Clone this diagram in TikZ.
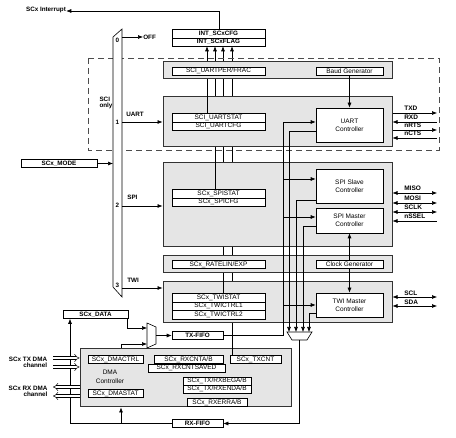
\documentclass[tikz,border=0pt]{standalone}
\usepackage{fontspec}
\setmainfont{Liberation Sans}
\usetikzlibrary{arrows.meta}
\tikzset{
	reg/.style={draw,fill=white,inner sep=0pt,minimum height=8pt,font=\fontsize{6.5}{6.5}\selectfont},
	blk/.style={draw=black!80,fill=black!10,line width=1pt,inner sep=0pt},
	ctrl/.style={draw,fill=white,inner sep=0pt,minimum width=67pt,align=center,font=\fontsize{6.5}{8}\selectfont},
	lbl/.style={inner sep=0pt,font=\bfseries\fontsize{6.3}{6.3}\selectfont},
	pin/.style={inner sep=0pt,anchor=west,font=\bfseries\fontsize{6.5}{6}\selectfont},
	dmaarrow/.style={double,double distance=2.2pt,line width=0.5pt,-{Implies}}
}

\begin{document}
\begin{tikzpicture}[x=1pt,y=-1pt,>={Latex[length=5pt,width=4pt]},line width=0.6pt]
\useasboundingbox (0,0) rectangle (456,438);
% interrupt registers
\node [reg,minimum width=93pt,minimum height=9pt,font=\bfseries\fontsize{6.3}{6}\selectfont] (intcfg) at (218.5,33.5) {INT\_SCxCFG};
\node [reg,minimum width=93pt,font=\bfseries\fontsize{6.3}{6}\selectfont] (intflag) at (218.5,42) {INT\_SCxFLAG};
\node [lbl] (irq) at (46,10) {SCx Interrupt};
\draw [->] (intcfg.north -| 219,0) -- (219,11) -- (irq.east |- 0,11);
% lines from the blocks to the interrupt registers
\foreach \x/\y in {207/113,215/189,223/293,232/356}
	\draw [->] (\x,\y) -- (intflag.south -| \x,0);
% SCI only
\draw [dashed,dash pattern=on 6pt off 4pt,black!70] (88,58) rectangle (439,150);
\node [lbl,align=left] (scionly) at (106,103) {SCI\\only};
% blocks
\node [blk,minimum width=229pt,minimum height=17pt] (baudblk) at (277.5,70.5) {};
\node [blk,minimum width=229pt,minimum height=50pt] (uartblk) at (277.5,122) {};
\node [blk,minimum width=229pt,minimum height=84pt] (spiblk) at (277.5,205) {};
\node [blk,minimum width=229pt,minimum height=17pt] (rateblk) at (277.5,264.5) {};
\node [blk,minimum width=229pt,minimum height=41pt] (twiblk) at (277.5,302.5) {};
\node [blk,minimum width=211pt,minimum height=58pt] (dmablk) at (185.5,378) {};
% registers
\node [reg,minimum width=93pt] (uartper) at (218.5,71) {SCI\_UARTPER/FRAC};
\node [reg,minimum width=67pt] (baudgen) at (349.5,71) {Baud Generator};
\node [reg,minimum width=93pt,minimum height=9pt] (uartstat) at (218.5,117.5) {SCI\_UARTSTAT};
\node [reg,minimum width=93pt] (uartcfg) at (218.5,126) {SCI\_UARTCFG};
\node [reg,minimum width=93pt,minimum height=9pt] (spistat) at (218.5,193.5) {SCx\_SPISTAT};
\node [reg,minimum width=93pt] (spicfg) at (218.5,202) {SCx\_SPICFG};
\node [reg,minimum width=93pt] (ratereg) at (218.5,264.5) {SCx\_RATELIN/EXP};
\node [reg,minimum width=67pt] (clkgen) at (349.5,264.5) {Clock Generator};
\node [reg,minimum width=93pt,minimum height=9pt] (twistat) at (218.5,297.5) {SCx\_TWISTAT};
\node [reg,minimum width=93pt] (twictrla) at (218.5,306) {SCx\_TWICTRL1};
\node [reg,minimum width=93pt,minimum height=9pt] (twictrlb) at (218.5,314.5) {SCx\_TWICTRL2};
% controllers
\node [ctrl,minimum height=34pt] (uartctrl) at (349.5,125) {UART\\Controller};
\node [ctrl,minimum height=34pt] (spislave) at (349.5,186) {SPI Slave\\Controller};
\node [ctrl,minimum height=25pt] (spimaster) at (349.5,220.5) {SPI Master\\Controller};
\node [ctrl,minimum height=24pt] (twimaster) at (349.5,305) {TWI Master\\Controller};
% DMA registers
\node [reg,minimum width=55pt] (dmactrl) at (115.5,359.5) {SCx\_DMACTRL};
\node [reg,minimum width=55pt] (dmastat) at (115.5,393.5) {SCx\_DMASTAT};
\node [reg,minimum width=69pt] (rxcnt) at (188.5,359.5) {SCx\_RXCNTA/B};
\node [reg,minimum width=77pt] (rxcntsaved) at (186.5,368) {SCx\_RXCNTSAVED};
\node [reg,minimum width=51pt] (txcnt) at (255.5,359.5) {SCx\_TXCNT};
\node [reg,minimum width=68pt] (txrxbeg) at (217,381) {SCx\_TX/RXBEGA/B};
\node [reg,minimum width=68pt] (txrxend) at (217,389) {SCx\_TX/RXENDA/B};
\node [reg,minimum width=60pt] (rxerr) at (217,402.5) {SCx\_RXERRA/B};
\node [align=center,inner sep=0pt,font=\fontsize{6.5}{9.5}\selectfont] (dmatxt) at (110,377) {DMA\\Controller};
% visible ends of the interrupt lines
\draw (uartstat.north -| 207,0) -- (uartblk.north -| 207,0);
\draw (spistat.north -| 215,0) -- (spiblk.north -| 215,0);
\draw (twistat.north -| 223,0) -- (twiblk.north -| 223,0);
\draw (txcnt.north -| 232,0) -- (dmablk.north -| 232,0);
% mode select
\draw [fill=white] (113,37) coordinate (mtl) -- (122,29) -- (122,297) -- (113,287) -- cycle;
\foreach \n/\y in {0/40,1/122,2/205,3/285}
	\node [lbl] (sel\n) at (117.5,\y) {\n};
\node [reg,minimum width=76pt,font=\bfseries\fontsize{6.3}{6}\selectfont] (scxmode) at (59,163.5) {SCx\_MODE};
\draw [->] (scxmode.east) -- (113,163.5);
\node [lbl,anchor=west] (off) at (143,37) {OFF};
\draw [->] (122,37) -- (off.west);
\draw [->] (122,122) -- (uartblk.west |- 0,122);
\draw [->] (122,206) -- (spiblk.west |- 0,206);
\draw [->] (122,288) -- (twiblk.west |- 0,288);
\node [lbl,anchor=west] (uartlbl) at (126,114) {UART};
\node [lbl,anchor=west] (spilbl) at (127,197) {SPI};
\node [lbl,anchor=west] (twilbl) at (127,280) {TWI};
% clocks
\draw [->] (baudgen.south) -- (uartctrl.north);
\draw [->] (clkgen.north) -- (spimaster.south);
\draw [->] (clkgen.south) -- (twimaster.north);
% pins
\node [pin] (txd) at (404,108) {TXD};
\node [pin] (rxd) at (404,117) {RXD};
\node [pin] (nrts) at (404,125) {nRTS};
\node [pin] (ncts) at (404,133.5) {nCTS};
\draw [->] (uartblk.east |- 0,113) -- (437,113);
\draw [<-] (uartblk.east |- 0,122) -- (437,122);
\draw [->] (uartblk.east |- 0,130) -- (437,130);
\draw [<-] (uartblk.east |- 0,138) -- (437,138);
\node [pin] (miso) at (404,188) {MISO};
\node [pin] (mosi) at (404,198) {MOSI};
\node [pin] (sclk) at (404,207) {SCLK};
\node [pin] (nssel) at (404,216) {nSSEL};
\draw [<->] (spiblk.east |- 0,193) -- (437,193);
\draw [<->] (spiblk.east |- 0,203) -- (437,203);
\draw [<->] (spiblk.east |- 0,212) -- (437,212);
\draw [<-] (spiblk.east |- 0,221) -- (437,221);
\node [pin] (scl) at (404,293) {SCL};
\node [pin] (sda) at (404,302) {SDA};
\draw [<->] (twiblk.east |- 0,297) -- (437,297);
\draw [<->] (twiblk.east |- 0,306) -- (437,306);
% FIFOs and muxes
\node [reg,minimum width=51pt,font=\bfseries\fontsize{6.3}{6}\selectfont] (txfifo) at (197.5,335.5) {TX-FIFO};
\node [reg,minimum width=51pt,font=\bfseries\fontsize{6.3}{6}\selectfont] (rxfifo) at (197.5,423.5) {RX-FIFO};
\node [reg,minimum width=65pt,font=\bfseries\fontsize{6.3}{6}\selectfont] (scxdata) at (95.5,314.5) {SCx\_DATA};
\draw [fill=white] (147,323) -- (156,327) -- (156,344) -- (147,348) -- cycle;
\coordinate (txmux) at (156,335.5);
\draw [->] (txmux) -- (txfifo.west);
\draw [->] (scxdata.south east) ++(-1,0) |- (147,328);
\draw [->] (dmablk.north -| 121,0) |- (147,344);
\draw [fill=white] (287,332) -- (312,332) -- (307,340) -- (292,340) -- cycle;
\coordinate (rxmux) at (299.5,340);
\draw [->] (txfifo.east) -| (283,122) -- (uartctrl.west |- 0,122);
\foreach \y in {179,217,305}
	\draw [->] (283,\y) -- (spislave.west |- 0,\y);
\draw [->] (uartctrl.west |- 0,131) -| (289,332);
\draw [->] (spislave.west |- 0,200) -| (296,332);
\draw [->] (spimaster.west |- 0,226) -| (303,332);
\draw [->] (twimaster.west |- 0,313) -| (309,332);
\draw [->] (rxmux) |- (rxfifo.east);
\draw [->] (rxfifo.west) -| (scxdata.south -| 70,0);
\draw [->] (121,423.5) -- (dmablk.south -| 121,0);
% DMA channels
\node [lbl,align=right] (txdma) at (28,362) {SCx TX DMA\\channel};
\node [lbl,align=right] (rxdma) at (28,391) {SCx RX DMA\\channel};
\draw [dmaarrow] (53,358) -- (dmablk.west |- 0,358);
\draw [dmaarrow] (53,367) -- (dmablk.west |- 0,367);
\draw [dmaarrow] (dmablk.west |- 0,387) -- (53,387);
\draw [dmaarrow] (dmablk.west |- 0,396) -- (53,396);
\end{tikzpicture}
\end{document}
